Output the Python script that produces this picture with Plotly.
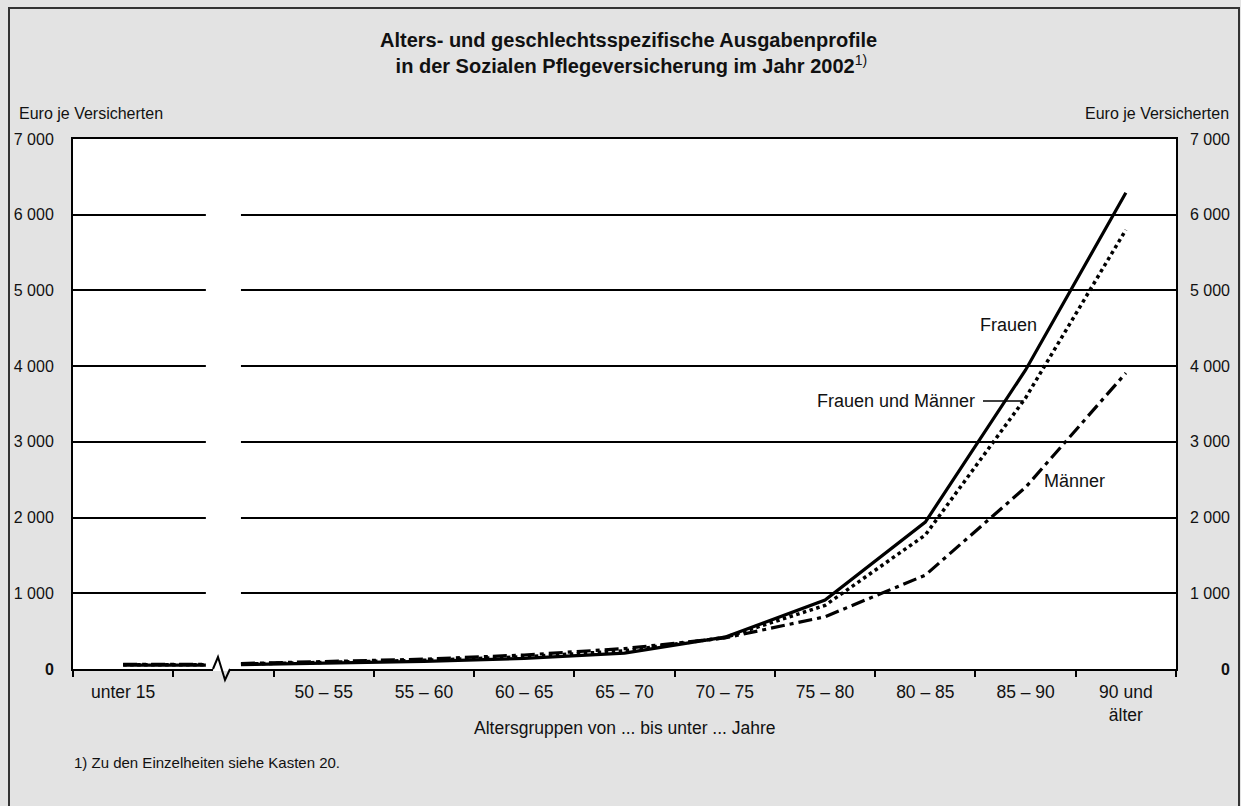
import plotly.graph_objects as go

# ---------------- data ----------------
age_groups = ["unter 15", "", "50 – 55", "55 – 60", "60 – 65", "65 – 70",
              "70 – 75", "75 – 80", "80 – 85", "85 – 90", "90 und<br>älter"]
frauen = [50, None, 75, 100, 140, 210, 420, 910, 1940, 3950, 6290]
gesamt = [55, None, 85, 115, 160, 240, 415, 840, 1770, 3580, 5800]
maenner = [60, None, 100, 130, 185, 270, 410, 690, 1240, 2400, 3910]
# values where the lines meet the axis break (left edge, right edge)
frauen_break = [52, 58]
gesamt_break = [57, 65]
maenner_break = [62, 72]
y_tick_values = [0, 1000, 2000, 3000, 4000, 5000, 6000, 7000]
y_tick_labels = ["<b>0</b>", "1 000", "2 000", "3 000", "4 000", "5 000", "6 000", "7 000"]

BREAK_CENTER = 1.0
BREAK_HALF = 0.175
FONT = "Liberation Sans, Arial, Helvetica, sans-serif"

W, H = 1241, 806
ML, MR, MT, MB = 73, 11, 139, 137
PW = W - ML - MR      # paper width
PH = H - MT - MB      # plot height
PLOT_W = 1103


def px(xp):
    return (xp - ML) / PW


def py(yp):
    return (H - MB - yp) / PH


def series_xy(vals, brk):
    xs, ys = [], []
    xs += [0, BREAK_CENTER - BREAK_HALF, None, BREAK_CENTER + BREAK_HALF]
    ys += [vals[0], brk[0], None, brk[1]]
    for i in range(2, len(vals)):
        xs.append(i)
        ys.append(vals[i])
    return xs, ys


fig = go.Figure()

styles = [
    (maenner, maenner_break, dict(color="black", width=3.2, dash="14px,5px,4px,5px"), "Männer"),
    (gesamt, gesamt_break, dict(color="black", width=3.5, dash="dot"), "Frauen und Männer"),
    (frauen, frauen_break, dict(color="black", width=3.2), "Frauen"),
]
for vals, brk, line, name in styles:
    xs, ys = series_xy(vals, brk)
    fig.add_trace(go.Scatter(x=xs, y=ys, mode="lines", line=line, name=name,
                             showlegend=False, connectgaps=False, hoverinfo="skip"))

# invisible trace for the right-hand axis
fig.add_trace(go.Scatter(x=[0], y=[0], yaxis="y2", mode="markers", marker=dict(opacity=0),
                         showlegend=False, hoverinfo="skip"))

label_idx = [i for i, t in enumerate(age_groups) if t]

fig.update_layout(
    width=W, height=H,
    margin=dict(l=ML, r=MR, t=MT, b=MB, pad=0),
    paper_bgcolor="#e3e3e3",
    plot_bgcolor="white",
    font=dict(family=FONT, color="#111111"),
    xaxis=dict(
        domain=[0, PLOT_W / PW], range=[-0.5, 10.5],
        tickvals=label_idx, ticktext=[age_groups[i] for i in label_idx],
        ticks="", showgrid=False, zeroline=False,
        showline=True, linecolor="black", linewidth=2, mirror=True,
        tickfont=dict(size=17.5, family=FONT, color="#111111"),
        ticklabelstandoff=6,
        minor=dict(tickvals=[i - 0.5 for i in range(len(age_groups) + 1)],
                   ticks="outside", ticklen=6, tickwidth=1.5, tickcolor="black", showgrid=False),
    ),
    yaxis=dict(
        range=[0, 7000], tickvals=y_tick_values, ticktext=y_tick_labels,
        showgrid=True, gridcolor="black", gridwidth=1.5, zeroline=False,
        showline=True, linecolor="black", linewidth=2, mirror=True,
        ticks="", tickfont=dict(size=16, family=FONT, color="#111111"),
        ticklabelstandoff=14,
    ),
    yaxis2=dict(
        overlaying="y", anchor="free", position=1, side="left",
        range=[0, 7000], tickvals=y_tick_values, ticktext=y_tick_labels,
        showgrid=False, zeroline=False, showline=False, ticks="",
        tickfont=dict(size=16, family=FONT, color="#111111"),
        ticklabelstandoff=0,
    ),
)

shapes = []
# gap in the gridlines at the axis break
shapes.append(dict(type="rect", xref="x", yref="y",
                   x0=BREAK_CENTER - BREAK_HALF, x1=BREAK_CENTER + BREAK_HALF,
                   y0=0, y1=6500, fillcolor="white", line=dict(width=0), layer="between"))
# break in x axis line + zigzag
zz_l, zz_p, zz_t, zz_r = -0.104, -0.054, 0.016, 0.066
shapes.append(dict(type="line", xref="x", yref="paper",
                   x0=BREAK_CENTER + zz_l, x1=BREAK_CENTER + zz_r, y0=0, y1=0,
                   line=dict(color="white", width=4), layer="above"))
path = "M {a},{y0} L {b},{y1} L {c},{y2} L {d},{y0}".format(
    a=BREAK_CENTER + zz_l, b=BREAK_CENTER + zz_p, c=BREAK_CENTER + zz_t, d=BREAK_CENTER + zz_r,
    y0=0, y1=(669 - 657) / PH, y2=(669 - 680) / PH)
shapes.append(dict(type="path", xref="x", yref="paper", path=path,
                   line=dict(color="black", width=2), layer="above"))
# leader line for "Frauen und Männer"
shapes.append(dict(type="line", xref="x", yref="y", x0=8.575, x1=8.98, y0=3540, y1=3540,
                   line=dict(color="black", width=1.5), layer="between"))
# outer frame
shapes.append(dict(type="rect", xref="paper", yref="paper",
                   x0=px(9), x1=px(1239), y0=py(8), y1=py(840),
                   line=dict(color="#333333", width=2), fillcolor="rgba(0,0,0,0)", layer="above"))
fig.update_layout(shapes=shapes)

ann = []
ann.append(dict(text="<b>Alters- und geschlechtsspezifische Ausgabenprofile</b><br>"
                     "<b> in der Sozialen Pflegeversicherung im Jahr 2002</b><sup>1)</sup>",
                xref="paper", yref="paper", x=px(628), y=py(53), xanchor="center", yanchor="middle",
                showarrow=False, font=dict(size=20, family=FONT, color="#111111")))
ann.append(dict(text="Euro je Versicherten", xref="paper", yref="paper", x=px(17), y=py(114),
                xanchor="left", yanchor="middle", showarrow=False, font=dict(size=16)))
ann.append(dict(text="Euro je Versicherten", xref="paper", yref="paper", x=px(1231), y=py(114),
                xanchor="right", yanchor="middle", showarrow=False, font=dict(size=16)))
ann.append(dict(text="Altersgruppen von ... bis unter ... Jahre", xref="paper", yref="paper",
                x=px(624.5), y=py(728), xanchor="center", yanchor="middle", showarrow=False,
                font=dict(size=17.5)))
ann.append(dict(text="1) Zu den Einzelheiten siehe Kasten 20.", xref="paper", yref="paper",
                x=px(72), y=py(762), xanchor="left", yanchor="middle", showarrow=False,
                font=dict(size=15)))
ann.append(dict(text="Frauen", xref="x", yref="y", x=8.825, y=4544, xanchor="center",
                yanchor="middle", showarrow=False, font=dict(size=18)))
ann.append(dict(text="Frauen und Männer", xref="x", yref="y", x=8.52, y=3540, xanchor="right",
                yanchor="middle", showarrow=False, font=dict(size=18)))
ann.append(dict(text="Männer", xref="x", yref="y", x=9.49, y=2477, xanchor="center",
                yanchor="middle", showarrow=False, font=dict(size=18)))
fig.update_layout(annotations=ann)

fig.write_html("out.html", config={"displayModeBar": False},
               post_script="document.body.style.margin='0';document.body.style.overflow='hidden';")
